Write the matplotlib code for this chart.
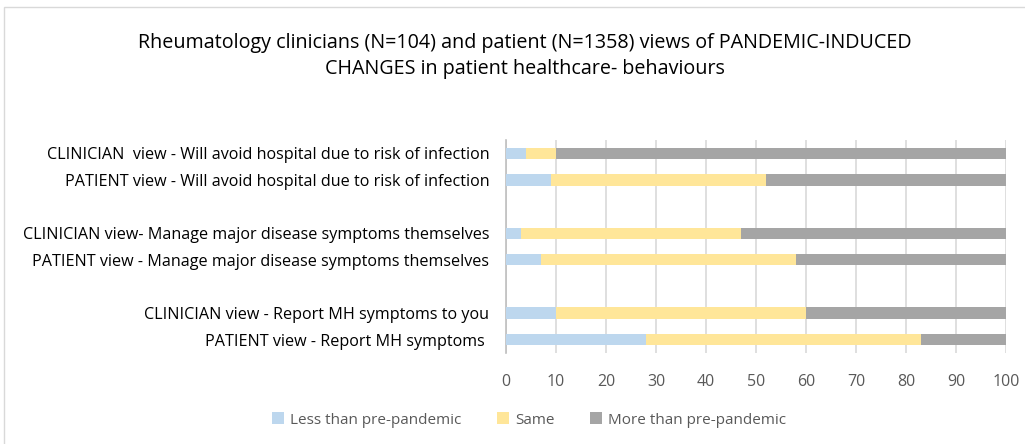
import matplotlib.pyplot as plt
import matplotlib.patches as mpatches
import numpy as np

# categories top to bottom, blank strings are the gaps between pairs
categories = [
    "CLINICIAN  view - Will avoid hospital due to risk of infection",
    "PATIENT view - Will avoid hospital due to risk of infection",
    "",
    "CLINICIAN view- Manage major disease symptoms themselves",
    "PATIENT view - Manage major disease symptoms themselves",
    "",
    "CLINICIAN view - Report MH symptoms to you",
    "PATIENT view - Report MH symptoms ",
]
less_vals = [4, 9, 0, 3, 7, 0, 10, 28]
same_vals = [6, 43, 0, 44, 51, 0, 50, 55]
more_vals = [90, 48, 0, 53, 42, 0, 40, 17]
series_names = ["Less than pre-pandemic", "Same", "More than pre-pandemic"]
colors = ["#BDD7EE", "#FFE699", "#A5A5A5"]

plt.rcParams['font.family'] = ['Open Sans', 'DejaVu Sans']

fig = plt.figure(figsize=(10.25, 4.44), dpi=100)
ax = fig.add_axes([506 / 1025, 1 - 353 / 444, 500 / 1025, 213 / 444])

y = np.arange(len(categories))
less = np.array(less_vals)
same = np.array(same_vals)
more = np.array(more_vals)
ax.barh(y, less, 0.42, color=colors[0], label=series_names[0], zorder=3)
ax.barh(y, same, 0.42, left=less, color=colors[1], label=series_names[1], zorder=3)
ax.barh(y, more, 0.42, left=less + same, color=colors[2], label=series_names[2], zorder=3)

ax.set_ylim(len(categories) - 0.5, -0.5)
ax.set_xlim(0, 100)
ax.set_xticks(np.arange(0, 101, 10))
ax.set_yticks(y, categories)
ax.tick_params(axis='x', length=0, labelsize=11.5, labelcolor='#595959', pad=15)
ax.tick_params(axis='y', length=0, labelsize=11.6, labelcolor='#000000', pad=12)
ax.grid(axis='x', color='#D9D9D9', linewidth=1.2, zorder=0)
for s in ['top', 'right', 'bottom']:
    ax.spines[s].set_visible(False)
ax.spines['left'].set_color('#BFBFBF')
ax.spines['left'].set_linewidth(1.2)

fig.text(525 / 1025, 1 - 43 / 444, "Rheumatology clinicians (N=104) and patient (N=1358) views of PANDEMIC-INDUCED",
         ha='center', va='center', fontsize=14.2, color='#000000')
fig.text(525 / 1025, 1 - 69 / 444, "CHANGES in patient healthcare- behaviours",
         ha='center', va='center', fontsize=14.2, color='#000000')

fig.legend(loc='center', bbox_to_anchor=(529 / 1025, 1 - 420 / 444), ncol=3, frameon=False,
           fontsize=11, labelcolor='#595959', handlelength=0.8, handleheight=0.8,
           handletextpad=0.4, columnspacing=2.3)

# chart area border
fig.patches.append(mpatches.Rectangle((4 / 1025, -0.1), 1.2, 1.1 - 7 / 444, transform=fig.transFigure,
                                      fill=False, edgecolor='#D9D9D9', linewidth=1))

fig.savefig("out.png", dpi=100)
